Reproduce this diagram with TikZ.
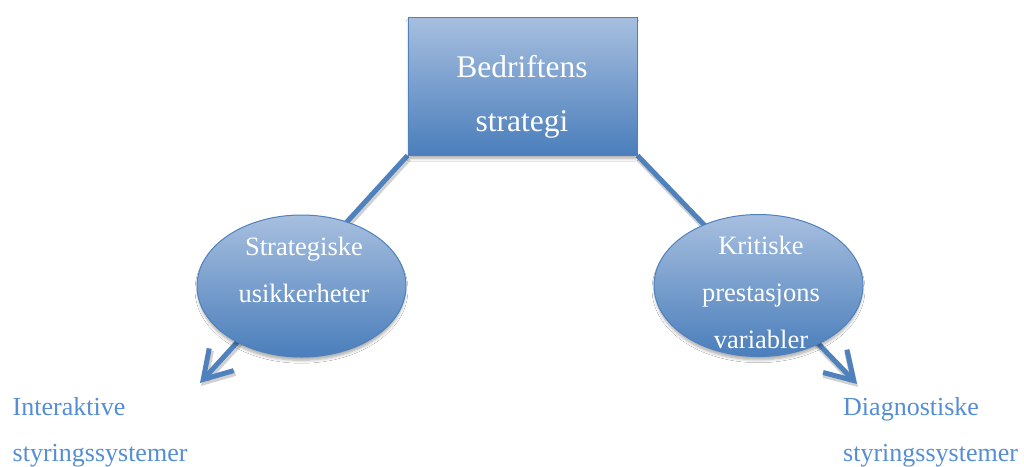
\documentclass[tikz,border=0pt]{standalone}
\usepackage{fontspec}
\setmainfont{Liberation Serif}
\usetikzlibrary{arrows.meta,shapes.geometric,shadows.blur,backgrounds}

\definecolor{accentblue}{HTML}{4F81BD}
\definecolor{lightfill}{HTML}{A7BFDF}
\definecolor{darkfill}{HTML}{4A7EBB}
\definecolor{labelblue}{HTML}{558ED5}

\tikzset{
  shapebase/.style={draw=accentblue, line width=1pt,
    top color=lightfill, bottom color=darkfill,
    blur shadow={shadow xshift=0pt, shadow yshift=-4pt, shadow scale=0.99,
      shadow blur steps=6, shadow blur radius=3pt, shadow opacity=35}},
  strategybox/.style={shapebase, rectangle, minimum width=229pt,
    minimum height=138pt, inner sep=0pt},
  topicellipse/.style={shapebase, ellipse, minimum width=209pt,
    minimum height=142pt, inner sep=0pt},
  boxtext/.style={text=white, font=\fontsize{31.5}{54}\selectfont,
    align=center, anchor=base, inner sep=0pt},
  ellipsetext/.style={text=white, font=\fontsize{26.5}{47}\selectfont,
    align=center, anchor=base, inner sep=0pt},
  systemlabel/.style={text=labelblue, font=\fontsize{26}{46}\selectfont,
    align=left, anchor=base west, inner sep=0pt},
  connector/.style={draw=accentblue, line width=5pt,
    -{Straight Barb[length=27pt,width=33pt]}},
  connectorshadow/.style={draw=black, opacity=0.18, line width=6pt,
    -{Straight Barb[length=27pt,width=33pt]}},
}

\begin{document}
\begin{tikzpicture}[x=1pt,y=-1pt]
  \useasboundingbox (0,0) rectangle (1024,466);

  % strategy box and the two focus areas (text placed by its last baseline)
  \node[strategybox] (strat) at (522.5,86) {};
  \node[boxtext] (strattext) at (522,131) {Bedriftens\\strategi};

  \node[topicellipse] (usikk) at (301.5,286) {};
  \node[ellipsetext] (usikktext) at (304,302) {Strategiske\\usikkerheter};

  \node[topicellipse] (krit) at (758.5,285.5) {};
  \node[ellipsetext] (krittext) at (761,348) {Kritiske\\prestasjons\\variabler};

  % resulting control systems
  \node[systemlabel] (interaktiv) at (12.5,461) {Interaktive\\styringssystemer};
  \node[systemlabel] (diagnostisk) at (843,461) {Diagnostiske\\styringssystemer};

  % arrow ends
  \coordinate (tipL) at (200,383);
  \coordinate (tipR) at (857,384);

  \begin{scope}[on background layer]
    \fill[white] (0,0) rectangle (1024,466);
    \draw[connectorshadow, transform canvas={xshift=1pt,yshift=-3pt}]
      (strat.south west) -- (tipL);
    \draw[connectorshadow, transform canvas={xshift=1pt,yshift=-3pt}]
      (strat.south east) -- (tipR);
    \draw[connector] (strat.south west) -- (tipL);
    \draw[connector] (strat.south east) -- (tipR);
  \end{scope}
\end{tikzpicture}
\end{document}
